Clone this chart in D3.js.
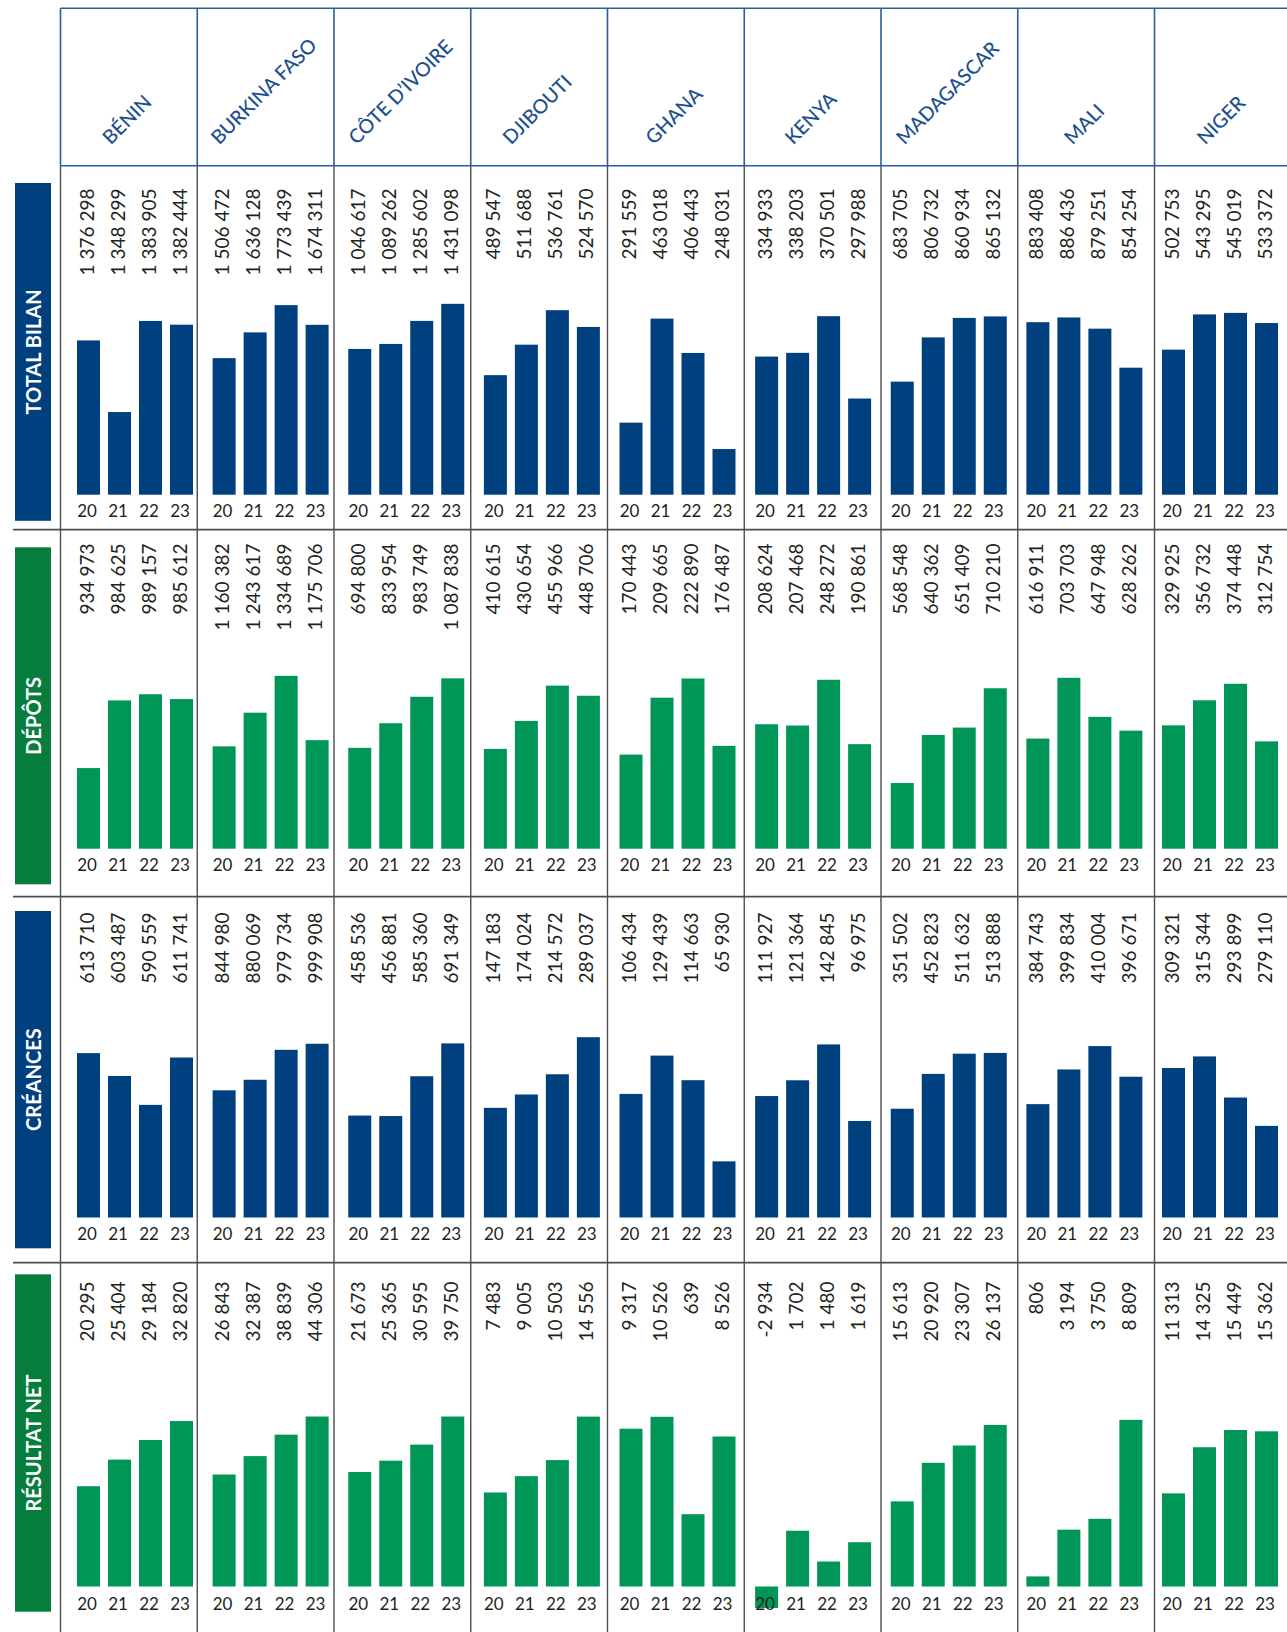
<!DOCTYPE html>
<html>
<head>
<meta charset="utf-8">
<script src="https://cdn.jsdelivr.net/npm/d3@7"></script>
<style>
  html, body { margin: 0; padding: 0; background: #ffffff; }
  svg { display: block; }
  text { font-family: Lato, "Open Sans", "Noto Sans", sans-serif; }
</style>
</head>
<body>
<svg id="chart" width="1287" height="1632"></svg>
<script>
// ---------------- DATA ----------------
const countries = ["BÉNIN", "BURKINA FASO", "CÔTE D’IVOIRE", "DJIBOUTI", "GHANA", "KENYA", "MADAGASCAR", "MALI", "NIGER"];
const years = ["20", "21", "22", "23"];
const metrics = ["TOTAL BILAN", "DÉPÔTS", "CRÉANCES", "RÉSULTAT NET"];

const totalBilan = [
  [1376298, 1348299, 1383905, 1382444],
  [1506472, 1636128, 1773439, 1674311],
  [1046617, 1089262, 1285602, 1431098],
  [489547, 511688, 536761, 524570],
  [291559, 463018, 406443, 248031],
  [334933, 338203, 370501, 297988],
  [683705, 806732, 860934, 865132],
  [883408, 886436, 879251, 854254],
  [502753, 543295, 545019, 533372]
];
const depots = [
  [934973, 984625, 989157, 985612],
  [1160382, 1243617, 1334689, 1175706],
  [694800, 833954, 983749, 1087838],
  [410615, 430654, 455966, 448706],
  [170443, 209665, 222890, 176487],
  [208624, 207468, 248272, 190861],
  [568548, 640362, 651409, 710210],
  [616911, 703703, 647948, 628262],
  [329925, 356732, 374448, 312754]
];
const creances = [
  [613710, 603487, 590559, 611741],
  [844980, 880069, 979734, 999908],
  [458536, 456881, 585360, 691349],
  [147183, 174024, 214572, 289037],
  [106434, 129439, 114663, 65930],
  [111927, 121364, 142845, 96975],
  [351502, 452823, 511632, 513888],
  [384743, 399834, 410004, 396671],
  [309321, 315344, 293899, 279110]
];
const resultatNet = [
  [20295, 25404, 29184, 32820],
  [26843, 32387, 38839, 44306],
  [21673, 25365, 30595, 39750],
  [7483, 9005, 10503, 14556],
  [9317, 10526, 639, 8526],
  [-2934, 1702, 1480, 1619],
  [15613, 20920, 23307, 26137],
  [806, 3194, 3750, 8809],
  [11313, 14325, 15449, 15362]
];

// value-axis domains of each small panel (the source uses a truncated axis per country)
const totalBilanAxisMin = [1316000, 818400, -196000, 402700, 172800, 213300, 369100, 772900, 335900];
const totalBilanAxisMax = [1388300, 1750400, 1381100, 537100, 477700, 376200, 883800, 891400, 548700];
const depotsAxisMin     = [875800, 907300, 124100, 339100, 105600, 97600, 470400, 459700, 197800];
const depotsAxisMax     = [998800, 1321700, 1072400, 459200, 221100, 247100, 720900, 699000, 377300];
const creancesAxisMin   = [540200, 421600, 129700, -72900, 32200, 39200, 34800, 335400, 231300];
const creancesAxisMax   = [615100, 979100, 670000, 263300, 132800, 139500, 522400, 408300, 318700];
const resultatAxisMin   = [1030, -6870, -15640, -1280, -6700, 1300, 3890, 290, 5240];
const resultatAxisMax   = [33020, 43260, 38620, 14240, 10200, 2500, 26820, 8800, 16100];

// ---------------- LAYOUT ----------------
const W = 1287, H = 1632;
const BLUE = "#00407f", GREEN = "#009657", DARKGREEN = "#067d3d";
const HEADER_BLUE = "#1c4f90", LINE_BLUE = "#2d5c9a", GRID = "#4d4d4d", INK = "#231f20";

const rowData = [totalBilan, depots, creances, resultatNet];
const rowMin = [totalBilanAxisMin, depotsAxisMin, creancesAxisMin, resultatAxisMin];
const rowMax = [totalBilanAxisMax, depotsAxisMax, creancesAxisMax, resultatAxisMax];
const rowBarColor = [BLUE, GREEN, BLUE, GREEN];
const rowBandColor = [BLUE, DARKGREEN, BLUE, DARKGREEN];

const rows = [
  { top: 165.7,  base: 494.7,  plotTop: 309.7,  labelTop: 188.5,  yearY: 516.8, bandTop: 183,    bandBottom: 520.8 },
  { top: 529.7,  base: 848.7,  plotTop: 681.1,  labelTop: 543.5,  yearY: 871,   bandTop: 547.3,  bandBottom: 884.3 },
  { top: 896.7,  base: 1217.5, plotTop: 1050,   labelTop: 912.5,  yearY: 1240,  bandTop: 911,    bandBottom: 1248.3 },
  { top: 1262.7, base: 1586.5, plotTop: 1420,   labelTop: 1281.5, yearY: 1610,  bandTop: 1274.3, bandBottom: 1611.7 }
];
const headerTop = 8.3, headerBottom = 165.7;

const fmt = d3.formatLocale({ decimal: ",", thousands: " ", grouping: [3], currency: ["", ""], minus: "-" }).format(",d");

const svg = d3.select("#chart");

// column grid scale (column left edges)
const colX = d3.scaleLinear().domain([0, 9]).range([60.5, 60.5 + 9 * 136.75]);
// bar-group start per country
const groupX = d3.scaleLinear().domain([0, countries.length - 1]).range([77, 1162]);
// bars within a group
const barX = d3.scaleBand().domain(years).range([0, 116]).paddingInner(8 / 31).paddingOuter(0);

// ---------------- GRID ----------------
const grid = svg.append("g");
grid.selectAll("line.bv").data(d3.range(countries.length)).join("line")
  .attr("x1", i => colX(i)).attr("x2", i => colX(i))
  .attr("y1", headerBottom).attr("y2", H)
  .attr("stroke", GRID).attr("stroke-width", 1.4);
grid.selectAll("line.bh").data(rows.slice(1)).join("line")
  .attr("x1", 13).attr("x2", W)
  .attr("y1", d => d.top).attr("y2", d => d.top)
  .attr("stroke", GRID).attr("stroke-width", 1.8);
const head = svg.append("g");
head.selectAll("line.hv").data(d3.range(countries.length)).join("line")
  .attr("x1", i => colX(i)).attr("x2", i => colX(i))
  .attr("y1", headerTop).attr("y2", headerBottom)
  .attr("stroke", LINE_BLUE).attr("stroke-width", 1.6);
head.selectAll("line.hh").data([headerTop, headerBottom]).join("line")
  .attr("x1", colX(0)).attr("x2", W)
  .attr("y1", d => d).attr("y2", d => d)
  .attr("stroke", LINE_BLUE).attr("stroke-width", 1.6);

// header labels (rotated -45)
const capH = 14;
head.selectAll("text.country").data(countries).join("text")
  .attr("class", "country")
  .attr("fill", HEADER_BLUE)
  .attr("font-size", 19.5)
  .attr("font-weight", 500)
  .text(d => d)
  .each(function (d, i) {
    const L = this.getComputedTextLength();
    const cx = (colX(i) + colX(i + 1)) / 2;
    const px = cx - 0.3536 * (L - capH) - 2;
    const py = 145.5;
    d3.select(this).attr("transform", `translate(${px},${py}) rotate(-45)`);
  });

// ---------------- ROW BANDS ----------------
const bands = svg.append("g");
bands.selectAll("rect").data(rows).join("rect")
  .attr("x", 15).attr("width", 36)
  .attr("y", d => d.bandTop).attr("height", d => d.bandBottom - d.bandTop)
  .attr("fill", (d, r) => rowBandColor[r]);
bands.selectAll("text").data(rows).join("text")
  .attr("transform", d => `translate(41,${(d.bandTop + d.bandBottom) / 2}) rotate(-90)`)
  .attr("text-anchor", "middle")
  .attr("fill", "#ffffff")
  .attr("font-size", 20)
  .attr("font-weight", 700)
  .text((d, r) => metrics[r]);

// ---------------- PANELS ----------------
const negMin = d3.min(resultatNet.flat());
rows.forEach((row, r) => {
  const g = svg.append("g");
  const negScale = d3.scaleLinear().domain([0, Math.min(negMin, -1)]).range([0, row.yearY - 2 - row.base]);
  rowData[r].forEach((vals, c) => {
    const y = d3.scaleLinear().domain([rowMin[r][c], rowMax[r][c]]).range([row.base, row.plotTop]);
    const x0 = groupX(c);
    const cell = g.append("g");
    const items = vals.map((v, k) => ({ v, year: years[k] }));
    cell.selectAll("rect").data(items).join("rect")
      .attr("x", d => x0 + barX(d.year))
      .attr("width", barX.bandwidth())
      .attr("y", d => d.v >= 0 ? y(d.v) : row.base)
      .attr("height", d => d.v >= 0 ? row.base - y(d.v) : negScale(d.v))
      .attr("fill", rowBarColor[r]);
    cell.selectAll("text.val").data(items).join("text")
      .attr("class", "val")
      .attr("transform", d => `translate(${x0 + barX(d.year) + barX.bandwidth() / 2 + 5},${row.labelTop}) rotate(-90)`)
      .attr("text-anchor", "end")
      .attr("font-size", 19)
      .attr("fill", INK)
      .text(d => fmt(d.v));
    cell.selectAll("text.yr").data(items).join("text")
      .attr("class", "yr")
      .attr("x", d => x0 + barX(d.year) + barX.bandwidth() / 2 - 1.5)
      .attr("y", row.yearY)
      .attr("text-anchor", "middle")
      .attr("font-size", 17)
      .attr("fill", INK)
      .text(d => d.year);
  });
});
</script>
</body>
</html>
